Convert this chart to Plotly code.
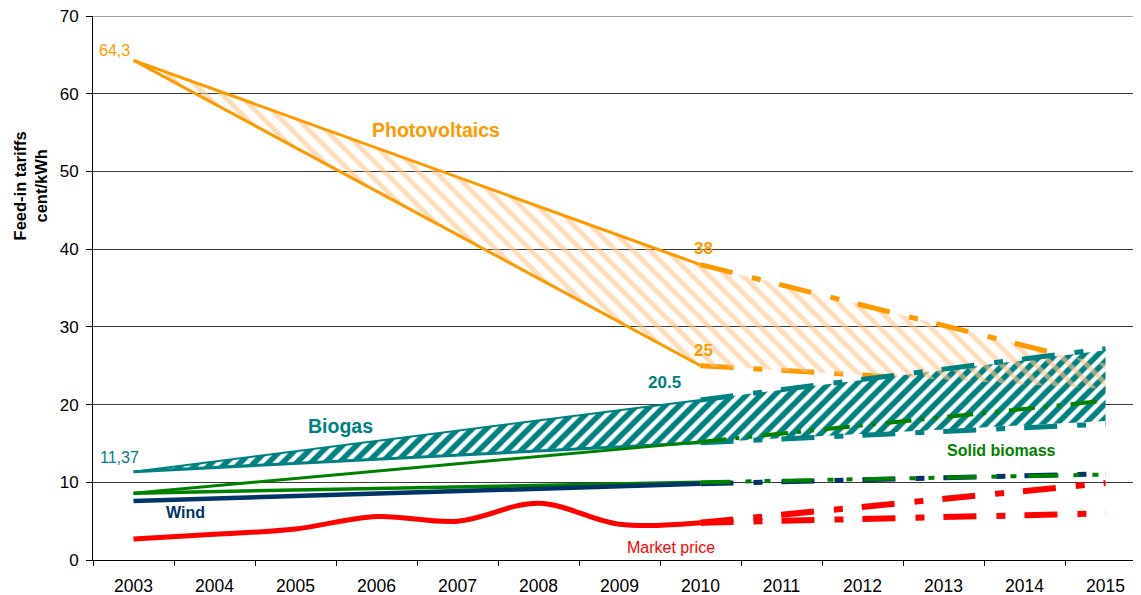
import plotly.graph_objects as go

# ---------------- data ----------------
years_hist = [2003, 2010]
years_proj = [2010, 2015]

pv_upper_hist = [64.3, 38.0]
pv_lower_hist = [64.3, 25.0]
pv_upper_proj_x = [2010, 2014.45]
pv_upper_proj = [38.0, 26.4]
pv_lower_proj = [25.0, 22.0]
pv_band_x = [2003, 2010, 2014.45, 2015, 2015, 2010, 2003]
pv_band_y = [64.3, 38.0, 26.4, 25.3, 22.0, 25.0, 64.3]

bio_upper_hist = [11.37, 20.6]
bio_lower_hist = [11.37, 15.1]
bio_upper_proj = [20.6, 27.2]
bio_lower_proj = [15.1, 17.5]
bio_band_x = [2003, 2010, 2015, 2015, 2010, 2003]
bio_band_y = [11.37, 20.6, 27.0, 17.9, 15.1, 11.37]

solid_upper_hist = [8.6, 15.2]
solid_lower_hist = [8.6, 10.0]
solid_upper_proj = [15.2, 20.5]
solid_lower_proj = [10.0, 11.0]

wind_hist = [7.6, 9.8]
wind_proj = [9.8, 11.1]

market_years = [2003, 2004, 2005, 2006, 2007, 2008, 2009, 2010]
market_price = [2.7, 3.3, 4.0, 5.6, 5.0, 7.3, 4.6, 4.8]
market_upper_proj = [4.8, 9.9]
market_lower_proj = [4.8, 6.0]

tick_years = list(range(2003, 2016))
y_ticks = [0, 10, 20, 30, 40, 50, 60, 70]

# ---------------- styles ----------------
ORANGE = "#FF9900"
TEAL = "#008080"
GREEN = "#008000"
NAVY = "#003366"
RED = "#FF0000"
FONT = "Liberation Sans, Arial, sans-serif"
DASH = "33px,20px,9px,19px"
DASH_GREEN_UP = "26px,9px,4px,9px,4px,10px"
DASH_GREEN_LO = "30px,15px,6px,13px,6px,12px"

fig = go.Figure()

def line(x, y, color, width, dash="solid", shape="linear"):
    fig.add_trace(go.Scatter(x=x, y=y, mode="lines",
                             line=dict(color=color, width=width, dash=dash, shape=shape),
                             hoverinfo="skip", showlegend=False))

# PV lower projection (drawn below the biogas hatch)
line(years_proj, pv_lower_proj, ORANGE, 5, DASH)

# Biogas hatched band
fig.add_trace(go.Scatter(x=bio_band_x, y=bio_band_y, mode="lines", fill="toself",
                         line=dict(width=0, color="rgba(0,0,0,0)"),
                         fillcolor="white",
                         fillpattern=dict(shape="/", fgcolor=TEAL, bgcolor="white",
                                          fgopacity=1, size=10, solidity=0.55),
                         hoverinfo="skip", showlegend=False))

# PV hatched band
fig.add_trace(go.Scatter(x=pv_band_x, y=pv_band_y, mode="lines", fill="toself",
                         line=dict(width=0, color="rgba(0,0,0,0)"),
                         fillcolor="rgba(0,0,0,0)",
                         fillpattern=dict(shape="\\", fgcolor="#FFC48C", bgcolor="rgba(255,255,255,0)",
                                          size=12, solidity=0.4, fgopacity=0.6),
                         hoverinfo="skip", showlegend=False))

# PV lines
line(years_hist, pv_upper_hist, ORANGE, 3)
line(years_hist, pv_lower_hist, ORANGE, 3)
line(pv_upper_proj_x, pv_upper_proj, ORANGE, 5, DASH)

# Biogas lines
line(years_hist, bio_upper_hist, TEAL, 2)
line(years_hist, bio_lower_hist, TEAL, 3)
line(years_proj, bio_upper_proj, TEAL, 5, DASH)
line(years_proj, bio_lower_proj, TEAL, 5, DASH)

# Solid biomass lines
line(years_hist, solid_upper_hist, GREEN, 3)
line(years_hist, solid_lower_hist, GREEN, 3.5)
line(years_proj, solid_upper_proj, GREEN, 4, DASH_GREEN_UP)

# Wind
line(years_hist, wind_hist, NAVY, 4.5)
line(years_proj, wind_proj, NAVY, 5, DASH)
line(years_proj, solid_lower_proj, GREEN, 4, DASH_GREEN_LO)

# Market price
line(market_years, market_price, RED, 5, shape="spline")
line(years_proj, market_upper_proj, RED, 6, DASH)
line(years_proj, market_lower_proj, RED, 6, DASH)

# ---------------- annotations ----------------
def label(x, y, text, color, size, bold=False):
    fig.add_annotation(x=x, y=y, text=f"<b>{text}</b>" if bold else text,
                       showarrow=False, xanchor="center", yanchor="middle",
                       font=dict(family=FONT, size=size, color=color))

label(2002.77, 65.6, "64,3", ORANGE, 16)
label(2006.74, 55.3, "Photovoltaics", ORANGE, 19.5, True)
label(2010.04, 40.1, "38", ORANGE, 17, True)
label(2010.04, 27.0, "25", ORANGE, 17, True)
label(2009.56, 22.9, "20.5", TEAL, 17, True)
label(2005.56, 17.3, "Biogas", TEAL, 19.5, True)
label(2002.83, 13.2, "11,37", TEAL, 16)
label(2013.72, 14.1, "Solid biomass", GREEN, 16, True)
label(2003.64, 6.1, "Wind", NAVY, 16, True)
label(2009.64, 1.6, "Market price", RED, 16)

fig.add_annotation(xref="paper", yref="paper", x=-0.06, y=0.687,
                   text="<b>Feed-in tariffs<br>cent/kWh</b>", textangle=-90,
                   showarrow=False, xanchor="center", yanchor="middle",
                   font=dict(family=FONT, size=16.5, color="black"))

fig.add_shape(type="line", xref="paper", yref="y", x0=0, x1=1, y0=70, y1=70,
              line=dict(color="#a0a0a0", width=2), layer="above")

# ---------------- layout ----------------
# the page body has an 8px margin, so the figure is sized/offset to compensate
fig.update_layout(
    width=1133, height=587,
    margin=dict(l=85, r=0, t=8, b=35, pad=0, autoexpand=False),
    paper_bgcolor="white", plot_bgcolor="white",
    showlegend=False, hovermode=False,
    font=dict(family=FONT, color="black"),
    xaxis=dict(range=[2002.5, 2015.438], tickmode="array", tickvals=tick_years,
               ticktext=[str(y) for y in tick_years], ticks="", showgrid=False,
               zeroline=False, showline=True, linecolor="black", linewidth=1,
               tickfont=dict(family=FONT, size=17.5, color="black"),
               ticklabelstandoff=10, ticklabeloverflow="allow",
               minor=dict(tick0=2002.5, dtick=1, ticks="outside", ticklen=5,
                          tickcolor="black", tickwidth=1, showgrid=False)),
    yaxis=dict(range=[0, 70], tickmode="array", tickvals=y_ticks,
               ticks="outside", ticklen=6, tickcolor="black", tickwidth=1,
               showgrid=True, gridcolor="#3a3a3a", gridwidth=1,
               zeroline=False, showline=True, linecolor="black", linewidth=1,
               tickfont=dict(family=FONT, size=17, color="black"),
               ticklabelstandoff=4, ticklabeloverflow="allow"),
)

fig.write_html("out.html")
